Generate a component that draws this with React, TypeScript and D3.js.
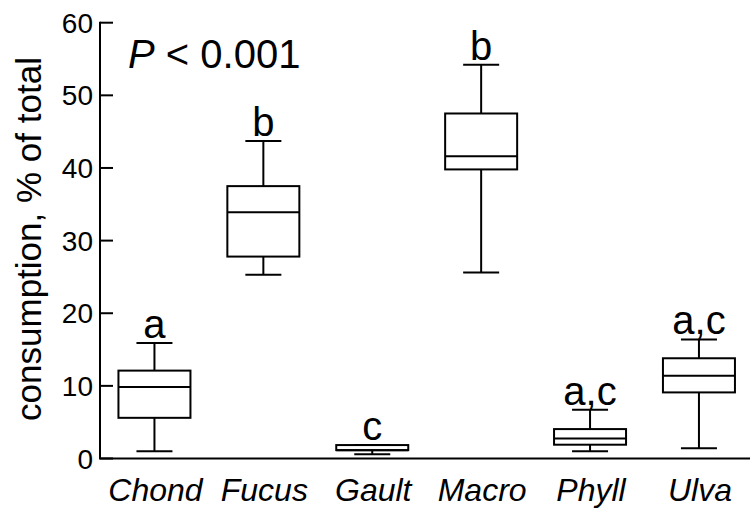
import React from "react";
import * as d3 from "d3";

const categories = ["Chond", "Fucus", "Gault", "Macro", "Phyll", "Ulva"];
const whiskerLow = [1.0, 25.3, 0.6, 25.6, 1.0, 1.4];
const q1 = [5.6, 27.8, 1.15, 39.8, 1.9, 9.1];
const median = [9.85, 33.9, 1.15, 41.6, 2.75, 11.4];
const q3 = [12.1, 37.5, 1.85, 47.5, 4.05, 13.8];
const whiskerHigh = [15.9, 43.7, 1.85, 54.2, 6.7, 16.4];
const groupLetters = ["a", "b", "c", "b", "a,c", "a,c"];
const yTicks = [0, 10, 20, 30, 40, 50, 60];

const W = 750;
const H = 509;
const FONT = "'Liberation Sans', Arial, Helvetica, sans-serif";

export default function App() {
  const x = d3.scaleBand<string>().domain(categories).range([100, 753.4]).padding(0);
  const y = d3.scaleLinear().domain([0, 60]).range([458.5, 22.7]);
  const boxW = 72;
  const capW = 36;
  const x0 = 100;

  return (
    <svg
      width={W}
      height={H}
      viewBox={`0 0 ${W} ${H}`}
      style={{ position: "absolute", left: 0, top: 0, background: "#fff" }}
      fontFamily={FONT}
    >
      {/* axes */}
      <line x1={x0} x2={x0} y1={y(60) - 1} y2={y(0)} stroke="#000" strokeWidth={2} />
      <line x1={x0 - 1} x2={W} y1={y(0)} y2={y(0)} stroke="#000" strokeWidth={2} />
      {yTicks.map((t) => (
        <g key={t}>
          <line x1={x0} x2={x0 + 13} y1={y(t)} y2={y(t)} stroke="#000" strokeWidth={2} />
          <text x={93} y={y(t)} dy="0.36em" textAnchor="end" fontSize={28}>
            {t}
          </text>
        </g>
      ))}
      <text
        transform={`translate(41, 239) rotate(-90)`}
        textAnchor="middle"
        fontSize={35}
      >
        consumption, % of total
      </text>

      {/* boxes */}
      {categories.map((c, i) => {
        const cx = (x(c) as number) + x.bandwidth() / 2;
        return (
          <g key={c} stroke="#000" strokeWidth={2} fill="none">
            <line x1={cx} x2={cx} y1={y(whiskerHigh[i])} y2={y(q3[i])} />
            <line x1={cx} x2={cx} y1={y(q1[i])} y2={y(whiskerLow[i])} />
            <line x1={cx - capW / 2} x2={cx + capW / 2} y1={y(whiskerHigh[i])} y2={y(whiskerHigh[i])} />
            <line x1={cx - capW / 2} x2={cx + capW / 2} y1={y(whiskerLow[i])} y2={y(whiskerLow[i])} />
            <rect
              x={cx - boxW / 2}
              y={y(q3[i])}
              width={boxW}
              height={y(q1[i]) - y(q3[i])}
              fill="#fff"
            />
            <line x1={cx - boxW / 2} x2={cx + boxW / 2} y1={y(median[i])} y2={y(median[i])} />
            <text
              x={cx}
              y={y(whiskerHigh[i]) - 5}
              textAnchor="middle"
              fontSize={40}
              fill="#000"
              stroke="none"
            >
              {groupLetters[i]}
            </text>
            <text
              x={cx + 1}
              y={501}
              textAnchor="middle"
              fontSize={32}
              fontStyle="italic"
              fill="#000"
              stroke="none"
            >
              {c}
            </text>
          </g>
        );
      })}

      <text x={128} y={68} fontSize={40}>
        <tspan fontStyle="italic">P</tspan>
        <tspan> &lt; 0.001</tspan>
      </text>
    </svg>
  );
}
